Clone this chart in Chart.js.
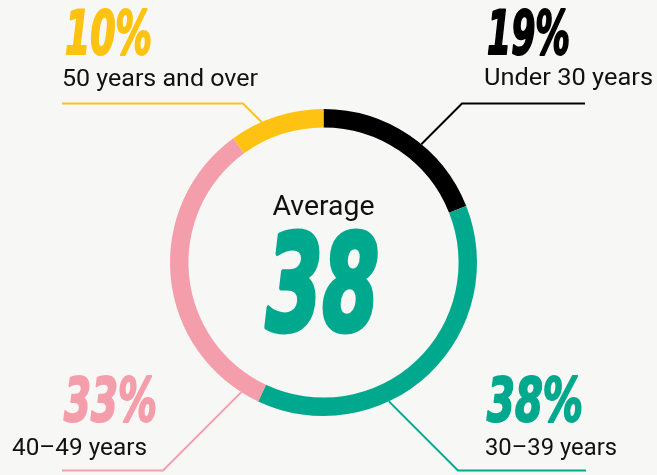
<!DOCTYPE html>
<html>
<head>
<meta charset="utf-8">
<script src="https://cdn.jsdelivr.net/npm/chart.js@4/dist/chart.umd.min.js"></script>
<style>
    html, body { margin: 0; padding: 0; background: #f7f7f5; }
    #wrap { width: 657px; height: 475px; position: relative; }
</style>
</head>
<body>
<div id="wrap"><canvas id="chart" width="657" height="475"></canvas></div>
<script>
// data
let categories = ["Under 30 years", "30–39 years", "40–49 years", "50 years and over"];
let shares = [19, 38, 33, 10];
let colors = ["#000000", "#00a98d", "#f59eab", "#fec312"];
let averageAge = 38;
let centerLabel = "Average";

// label layout: text left x, percent baseline, label baseline, elbow of leader, end of horizontal part
let labelLayout = [
    { pctX: 487, pctY: 54, pctW: 83, txtX: 484, txtY: 85, txtW: 169, elbow: [462, 103.5], end: 585, dir: [-1, 1] },
    { pctX: 487, pctY: 421, pctW: 96, txtX: 485, txtY: 455, txtW: 132, elbow: [458, 470.5], end: 586, dir: [-1, -1] },
    { pctX: 64, pctY: 421, pctW: 93, txtX: 12, txtY: 455, txtW: 135, elbow: [163, 470.5], end: 62, dir: [1, -1] },
    { pctX: 65, pctY: 54, pctW: 87, txtX: 62, txtY: 86, txtW: 196, elbow: [243, 103.5], end: 62, dir: [1, 1] }
];

const pctFont = 'bold italic 60px "Liberation Sans Narrow", "DejaVu Sans Condensed", sans-serif';
const txtFont = '23px Roboto, "Noto Sans", sans-serif';

function fitText(ctx, text, x, y, w, font, color, align, weight) {
    ctx.save();
    ctx.font = font;
    ctx.fillStyle = color;
    ctx.strokeStyle = color;
    ctx.textBaseline = "alphabetic";
    let m = ctx.measureText(text).width;
    let s = w / m;
    let left = align === "center" ? x - w / 2 : x;
    ctx.translate(left, y);
    ctx.scale(s, 1);
    ctx.textAlign = "left";
    ctx.fillText(text, 0, 0);
    if (weight) {
        // thicken the glyphs a bit, the original face is heavier
        ctx.lineWidth = weight;
        ctx.lineJoin = "round";
        ctx.strokeText(text, 0, 0);
    }
    ctx.restore();
}

const labelsPlugin = {
    id: "labels",
    afterDatasetsDraw(chart) {
        let ctx = chart.ctx;
        let arcs = chart.getDatasetMeta(0).data;

        arcs.forEach((arc, i) => {
            let p = arc.getProps(["x", "y", "outerRadius"], true);
            let L = labelLayout[i];

            // where the 45 degree leader meets the ring
            let dx = L.dir[0] / Math.SQRT2, dy = L.dir[1] / Math.SQRT2;
            let ex = L.elbow[0] - p.x, ey = L.elbow[1] - p.y;
            let b = ex * dx + ey * dy;
            let c = ex * ex + ey * ey - p.outerRadius * p.outerRadius;
            let t = -b - Math.sqrt(Math.max(b * b - c, 0));

            ctx.save();
            ctx.strokeStyle = colors[i];
            ctx.lineWidth = 2;
            ctx.beginPath();
            ctx.moveTo(L.end, L.elbow[1]);
            ctx.lineTo(L.elbow[0], L.elbow[1]);
            ctx.lineTo(L.elbow[0] + dx * t, L.elbow[1] + dy * t);
            ctx.stroke();
            ctx.restore();

            fitText(ctx, shares[i] + "%", L.pctX, L.pctY, L.pctW, pctFont, colors[i], "left", 2);
            fitText(ctx, categories[i], L.txtX, L.txtY, L.txtW, txtFont, "#111111");
        });

        let c0 = arcs[0].getProps(["x", "y"], true);
        fitText(ctx, centerLabel, c0.x, 215, 102, '27px Roboto, "Noto Sans", sans-serif', "#111111", "center");
        fitText(ctx, String(averageAge), c0.x - 1, 330, 113,
            'bold italic 134px "Liberation Sans Narrow", "DejaVu Sans Condensed", sans-serif', colors[1], "center", 5);
    }
};

let chart = new Chart(document.getElementById("chart"), {
    type: "doughnut",
    data: {
        labels: categories,
        datasets: [{
            data: shares,
            backgroundColor: colors,
            borderWidth: 0,
            hoverOffset: 0
        }]
    },
    options: {
        responsive: false,
        animation: false,
        cutout: "88%",
        layout: { padding: { left: 170, right: 180, top: 109, bottom: 59 } },
        plugins: {
            legend: { display: false },
            tooltip: { enabled: false }
        }
    },
    plugins: [labelsPlugin]
});
</script>
</body>
</html>
